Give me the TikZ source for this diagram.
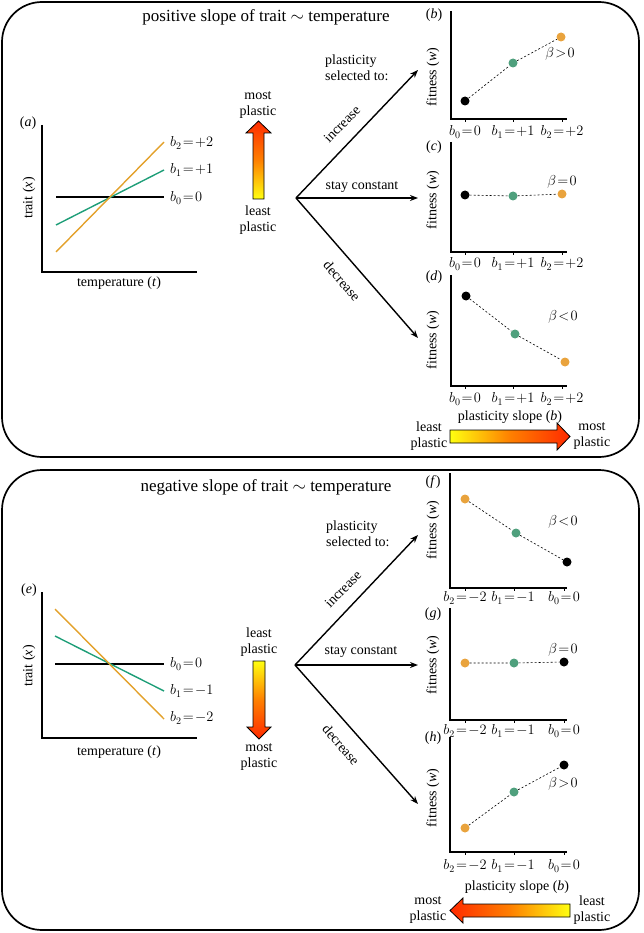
\documentclass[tikz,border=0pt]{standalone}
\usepackage{fontspec}
\setmainfont{Liberation Serif}
\usetikzlibrary{arrows.meta}

\definecolor{lineorange}{HTML}{E3A12B}
\definecolor{linegreen}{HTML}{1E9E78}
\definecolor{dotorange}{HTML}{E9A33D}
\definecolor{dotgreen}{HTML}{4FA07D}
\definecolor{hotred}{HTML}{FF2A00}
\definecolor{hotyellow}{HTML}{FFFF10}

\newcommand{\teq}{\mkern1.5mu{=}\mkern1.5mu}
\newcommand{\tgt}{\mkern1.5mu{>}\mkern1.5mu}
\newcommand{\tlt}{\mkern1.5mu{<}\mkern1.5mu}

\tikzset{
  txt/.style={font=\fontsize{14}{16}\selectfont, inner sep=0pt, align=center},
  ttl/.style={font=\fontsize{17}{19}\selectfont, inner sep=0pt},
  axisline/.style={line width=1.3pt},
  branch/.style={line width=1.4pt, -{Stealth[length=8pt,width=6pt]}},
  dot/.style={circle, fill=#1, inner sep=0pt, minimum size=9pt},
  fitline/.style={line width=0.6pt, dash pattern=on 2pt off 2pt},
  fatarrow/.style={line width=0.8pt},
  panel/.style={line width=1.7pt, rounded corners=40pt}
}

\begin{document}
\begin{tikzpicture}[x=1pt,y=-1pt]
    \useasboundingbox (0,0) rectangle (643,933);

    %boxes
    \draw[panel] (2,2) rectangle (639,457);
    \draw[panel] (2,470) rectangle (639,930);

    %titles
    \node[ttl] (titlepos) at (266,17) {positive slope of trait $\sim$ temperature};
    \node[ttl] (titleneg) at (266,487) {negative slope of trait $\sim$ temperature};

    %reaction norms (a)
    \node[txt] (laba) at (28,123) {(\textit{a})};
    \draw[axisline] (42,125) -- (42,272) -- (197,272);
    \draw[line width=1.4pt] (56,197) -- (164,197);
    \draw[line width=1.4pt, linegreen] (56,225) -- (164,170);
    \draw[line width=1.4pt, lineorange] (56,252) -- (164,142);
    \node[txt, anchor=west] (na2) at (170,143) {$b_2\teq{+}2$};
    \node[txt, anchor=west] (na1) at (170,170) {$b_1\teq{+}1$};
    \node[txt, anchor=west] (na0) at (170,198) {$b_0\teq0$};
    \node[txt, rotate=90] (traita) at (29,198) {trait (\textit{x})};
    \node[txt] (tempa) at (119,283) {temperature (\textit{t})};

    %plasticity arrow (up)
    \draw[fatarrow, bottom color=hotyellow, top color=hotred, middle color=orange]
      (253,199) -- (253,133) -- (246,133) -- (258.5,121) -- (271,133) -- (264,133) -- (264,199) -- cycle;
    \node[txt] (mostup) at (258,105) {most\\plastic};
    \node[txt] (leastup) at (258,220) {least\\plastic};

    %selection branches (top)
    \coordinate (pivA) at (296,198);
    \coordinate (incA) at (418,70);
    \coordinate (conA) at (418,198);
    \coordinate (decA) at (418,338);
    \draw[branch] (pivA) -- (incA);
    \draw[branch] (pivA) -- (conA);
    \draw[branch] (pivA) -- (decA);
    \node[txt, align=left, anchor=west] (selA) at (325,68) {plasticity\\selected to:};
    \node[txt, rotate=46] (tinA) at (342,124) {increase};
    \node[txt] (tcA) at (362,187) {stay constant};
    \node[txt, rotate=-49] (tdeA) at (342,281) {decrease};

    %fitness (b)
    \node[txt] (labb) at (434,15) {(\textit{b})};
    \draw[axisline] (451,11) -- (451,119) -- (567,119);
    \foreach \t in {465,513,562} \draw[line width=0.6pt] (\t,119) -- (\t,122);
    \node[dot=black] (b0b) at (465,101) {};
    \node[dot=dotgreen] (b1b) at (513,63) {};
    \node[dot=dotorange] (b2b) at (561,37) {};
    \draw[fitline] (b0b) -- (b1b) -- (b2b);
    \node[txt] (betab) at (560,54) {$\beta\tgt0$};
    \node[txt, rotate=90] (fitb) at (433,77) {fitness (\textit{w})};
    \node[txt] (xb0) at (465,132) {$b_0\teq0$};
    \node[txt] (xb1) at (513,132) {$b_1\teq{+}1$};
    \node[txt] (xb2) at (562,132) {$b_2\teq{+}2$};

    %fitness (c)
    \node[txt] (labc) at (434,147) {(\textit{c})};
    \draw[axisline] (451,142) -- (451,252) -- (567,252);
    \foreach \t in {465,513,562} \draw[line width=0.6pt] (\t,252) -- (\t,255);
    \node[dot=black] (b0c) at (465,195) {};
    \node[dot=dotgreen] (b1c) at (513,196) {};
    \node[dot=dotorange] (b2c) at (562,194) {};
    \draw[fitline] (b0c) -- (b1c) -- (b2c);
    \node[txt] (betac) at (562,182) {$\beta\teq0$};
    \node[txt, rotate=90] (fitc) at (433,200) {fitness (\textit{w})};
    \node[txt] (xc0) at (465,264) {$b_0\teq0$};
    \node[txt] (xc1) at (513,264) {$b_1\teq{+}1$};
    \node[txt] (xc2) at (562,264) {$b_2\teq{+}2$};

    %fitness (d)
    \node[txt] (labd) at (434,277) {(\textit{d})};
    \draw[axisline] (451,275) -- (451,386) -- (567,386);
    \foreach \t in {465,513,562} \draw[line width=0.6pt] (\t,386) -- (\t,389);
    \node[dot=black] (b0d) at (466,296) {};
    \node[dot=dotgreen] (b1d) at (515,334) {};
    \node[dot=dotorange] (b2d) at (565,362) {};
    \draw[fitline] (b0d) -- (b1d) -- (b2d);
    \node[txt] (betad) at (563,317) {$\beta\tlt0$};
    \node[txt, rotate=90] (fitd) at (433,340) {fitness (\textit{w})};
    \node[txt] (xd0) at (465,399) {$b_0\teq0$};
    \node[txt] (xd1) at (513,399) {$b_1\teq{+}1$};
    \node[txt] (xd2) at (562,399) {$b_2\teq{+}2$};
    \node[txt] (slopeA) at (510,417) {plasticity slope (\textit{b})};

    %plasticity arrow (right)
    \draw[fatarrow, left color=hotyellow, right color=hotred, middle color=orange]
      (450,430) -- (557,430) -- (557,423) -- (570,436.5) -- (557,450) -- (557,443) -- (450,443) -- cycle;
    \node[txt] (leastr) at (429,436) {least\\plastic};
    \node[txt] (mostr) at (592,436) {most\\plastic};

    %reaction norms (e)
    \node[txt] (labe) at (29,590) {(\textit{e})};
    \draw[axisline] (42,592) -- (42,738) -- (197,738);
    \draw[line width=1.4pt] (55,664) -- (164,664);
    \draw[line width=1.4pt, linegreen] (55,636) -- (164,691);
    \draw[line width=1.4pt, lineorange] (55,609) -- (164,719);
    \node[txt, anchor=west] (ne0) at (170,664) {$b_0\teq0$};
    \node[txt, anchor=west] (ne1) at (170,691) {$b_1\teq{-}1$};
    \node[txt, anchor=west] (ne2) at (170,718) {$b_2\teq{-}2$};
    \node[txt, rotate=90] (traite) at (29,666) {trait (\textit{x})};
    \node[txt] (tempe) at (119,752) {temperature (\textit{t})};

    %plasticity arrow (down)
    \draw[fatarrow, top color=hotyellow, bottom color=hotred, middle color=orange]
      (253,661) -- (253,727) -- (247,727) -- (259,739) -- (271,727) -- (265,727) -- (265,661) -- cycle;
    \node[txt] (leastdn) at (259,642) {least\\plastic};
    \node[txt] (mostdn) at (259,757) {most\\plastic};

    %selection branches (bottom)
    \coordinate (pivB) at (295,665);
    \coordinate (incB) at (418,535);
    \coordinate (conB) at (418,665);
    \coordinate (decB) at (418,804);
    \draw[branch] (pivB) -- (incB);
    \draw[branch] (pivB) -- (conB);
    \draw[branch] (pivB) -- (decB);
    \node[txt, align=left, anchor=west] (selB) at (326,534) {plasticity\\selected to:};
    \node[txt, rotate=46] (tinB) at (343,589) {increase};
    \node[txt] (tcB) at (361,652) {stay constant};
    \node[txt, rotate=-49] (tdeB) at (341,745) {decrease};

    %fitness (f)
    \node[txt] (labf) at (433,482) {(\textit{f})};
    \draw[axisline] (450,473) -- (450,588) -- (567,588);
    \foreach \t in {465,514,564} \draw[line width=0.6pt] (\t,588) -- (\t,591);
    \node[dot=dotorange] (b2f) at (465,499) {};
    \node[dot=dotgreen] (b1f) at (516,533) {};
    \node[dot=black] (b0f) at (567,562) {};
    \draw[fitline] (b2f) -- (b1f) -- (b0f);
    \node[txt] (betaf) at (563,522) {$\beta\tlt0$};
    \node[txt, rotate=90] (fitf) at (433,530) {fitness (\textit{w})};
    \node[txt] (xf2) at (465,598) {$b_2\teq{-}2$};
    \node[txt] (xf1) at (513,598) {$b_1\teq{-}1$};
    \node[txt] (xf0) at (564,598) {$b_0\teq0$};

    %fitness (g)
    \node[txt] (labg) at (433,614) {(\textit{g})};
    \draw[axisline] (450,608) -- (450,720) -- (567,720);
    \foreach \t in {465,514,564} \draw[line width=0.6pt] (\t,720) -- (\t,723);
    \node[dot=dotorange] (b2g) at (465,663) {};
    \node[dot=dotgreen] (b1g) at (514,663) {};
    \node[dot=black] (b0g) at (564,662) {};
    \draw[fitline] (b2g) -- (b1g) -- (b0g);
    \node[txt] (betag) at (563,650) {$\beta\teq0$};
    \node[txt, rotate=90] (fitg) at (433,665) {fitness (\textit{w})};
    \node[txt] (xg2) at (465,731) {$b_2\teq{-}2$};
    \node[txt] (xg1) at (513,731) {$b_1\teq{-}1$};
    \node[txt] (xg0) at (564,731) {$b_0\teq0$};

    %fitness (h)
    \node[txt] (labh) at (433,738) {(\textit{h})};
    \draw[axisline] (450,737) -- (450,852) -- (567,852);
    \foreach \t in {465,514,564} \draw[line width=0.6pt] (\t,852) -- (\t,855);
    \node[dot=black] (b0h) at (564,765) {};
    \node[dot=dotgreen] (b1h) at (514,792) {};
    \node[dot=dotorange] (b2h) at (465,828) {};
    \draw[fitline] (b2h) -- (b1h) -- (b0h);
    \node[txt] (betah) at (563,784) {$\beta\tgt0$};
    \node[txt, rotate=90] (fith) at (433,798) {fitness (\textit{w})};
    \node[txt] (xh2) at (465,866) {$b_2\teq{-}2$};
    \node[txt] (xh1) at (513,866) {$b_1\teq{-}1$};
    \node[txt] (xh0) at (564,866) {$b_0\teq0$};
    \node[txt] (slopeB) at (517,887) {plasticity slope (\textit{b})};

    %plasticity arrow (left)
    \draw[fatarrow, right color=hotyellow, left color=hotred, middle color=orange]
      (570,904) -- (463,904) -- (463,898) -- (450,910.5) -- (463,923) -- (463,917) -- (570,917) -- cycle;
    \node[txt] (mostl) at (428,910) {most\\plastic};
    \node[txt] (leastl) at (592,910) {least\\plastic};
\end{tikzpicture}
\end{document}
